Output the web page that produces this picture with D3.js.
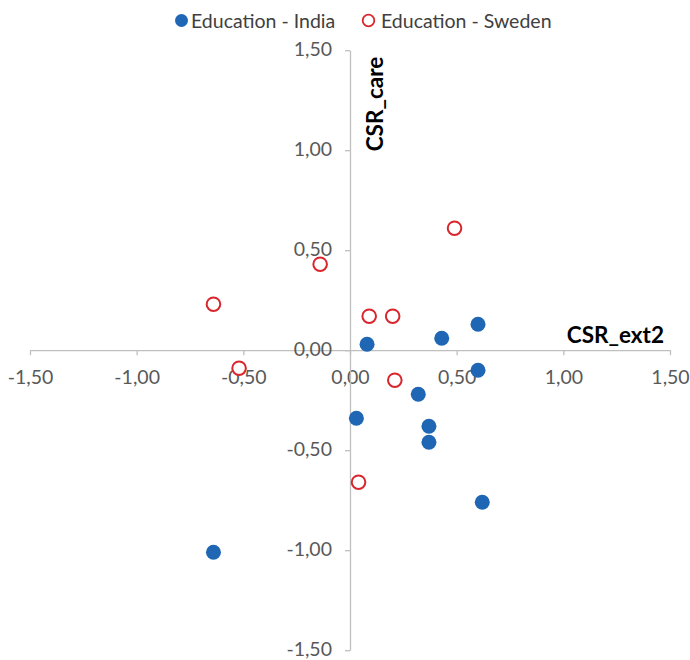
<!DOCTYPE html>
<html>
<head>
<meta charset="utf-8">
<script src="https://cdn.jsdelivr.net/npm/d3@7"></script>
<style>
  html, body { margin: 0; padding: 0; background: #fff; }
  svg { display: block; font-family: Lato, "Open Sans", sans-serif; }
</style>
</head>
<body>
<svg id="chart" width="690" height="660"></svg>
<script>
// Scores on the two CSR dimensions, per respondent group
const indiaX  = [0.08, 0.43, 0.60, 0.60, 0.32, 0.03, 0.37, 0.37, 0.62, -0.64];
const indiaY  = [0.03, 0.06, 0.13, -0.10, -0.22, -0.34, -0.38, -0.46, -0.76, -1.01];
const swedenX = [-0.64, -0.14, 0.09, 0.20, -0.52, 0.49, 0.21, 0.04];
const swedenY = [0.23, 0.43, 0.17, 0.17, -0.09, 0.61, -0.15, -0.66];

const seriesNames = ["Education - India", "Education - Sweden"];
const tickValues = [-1.5, -1.0, -0.5, 0.0, 0.5, 1.0, 1.5];
const xTitle = "CSR_ext2";
const yTitle = "CSR_care";

const svg = d3.select("#chart");
const x = d3.scaleLinear().domain([-1.5, 1.5]).range([30, 670]);
const y = d3.scaleLinear().domain([-1.5, 1.5]).range([650.2, 50.2]);

const fmt = v => d3.format(".2f")(v).replace(".", ",").replace("−", "-");
const axisColor = "#bfbfbf";
const labelColor = "#595959";

// Horizontal axis crossing at y = 0
const gx = svg.append("g")
  .attr("transform", `translate(0,${y(0)})`)
  .call(d3.axisBottom(x).tickValues(tickValues).tickFormat(fmt)
    .tickSize(5).tickSizeOuter(0).tickPadding(15));

// Vertical axis crossing at x = 0
const gy = svg.append("g")
  .attr("transform", `translate(${x(0)},0)`)
  .call(d3.axisLeft(y).tickValues(tickValues).tickFormat(fmt)
    .tickSize(5).tickSizeOuter(0).tickPadding(13));

[gx, gy].forEach(g => {
  g.select(".domain").attr("stroke", axisColor).attr("stroke-width", 1.3);
  g.selectAll(".tick line").attr("stroke", axisColor).attr("stroke-width", 1.3);
  g.selectAll(".tick text")
    .attr("fill", labelColor)
    .style("font-size", "19.5px")
    .style("font-family", "Lato, sans-serif");
});
gy.selectAll(".tick text").attr("dy", "0.28em");

// Axis titles
svg.append("text")
  .attr("x", 664).attr("y", 343)
  .attr("text-anchor", "end")
  .attr("fill", "#000")
  .style("font-size", "22.5px").style("font-weight", "bold")
  .text(xTitle);

svg.append("text")
  .attr("transform", `translate(383,104) rotate(-90)`)
  .attr("text-anchor", "middle")
  .attr("fill", "#000")
  .style("font-size", "22.5px").style("font-weight", "bold")
  .text(yTitle);

const blue = "#1f67b4";
const red = "#d9262c";

// India: filled markers
svg.append("g").selectAll("circle")
  .data(d3.zip(indiaX, indiaY))
  .join("circle")
  .attr("cx", d => x(d[0])).attr("cy", d => y(d[1]))
  .attr("r", 7.5)
  .attr("fill", blue);

// Sweden: hollow markers
svg.append("g").selectAll("circle")
  .data(d3.zip(swedenX, swedenY))
  .join("circle")
  .attr("cx", d => x(d[0])).attr("cy", d => y(d[1]))
  .attr("r", 6.8)
  .attr("fill", "#fff")
  .attr("stroke", red)
  .attr("stroke-width", 2);

// Legend
const legend = svg.append("g");
legend.append("circle").attr("cx", 181.5).attr("cy", 20.5).attr("r", 6.5).attr("fill", blue);
legend.append("text").attr("x", 191).attr("y", 27.5)
  .attr("fill", "#404040").style("font-size", "19.5px").text(seriesNames[0]);
legend.append("circle").attr("cx", 368.5).attr("cy", 20.5).attr("r", 5.8)
  .attr("fill", "#fff").attr("stroke", red).attr("stroke-width", 1.8);
legend.append("text").attr("x", 381).attr("y", 27.5)
  .attr("fill", "#404040").style("font-size", "19.5px").text(seriesNames[1]);
</script>
</body>
</html>
